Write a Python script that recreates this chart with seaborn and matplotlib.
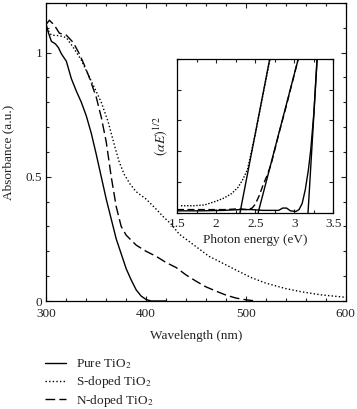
import matplotlib
matplotlib.use("Agg")
import matplotlib.pyplot as plt
import seaborn as sns
import numpy as np
import pandas as pd
from matplotlib.ticker import MultipleLocator

# ---------------- data (main panel) ----------------
pure_wl = [300, 302, 305, 309, 312, 315, 320, 325, 330, 335, 340, 345, 350, 355,
           360, 365, 370, 375, 380, 385, 390, 395, 400, 405, 420]
pure_abs = [1.11, 1.08, 1.045, 1.035, 1.02, 0.995, 0.965, 0.895, 0.845, 0.80, 0.745,
            0.675, 0.59, 0.50, 0.41, 0.33, 0.25, 0.19, 0.13, 0.085, 0.045, 0.02,
            0.006, 0.0, 0.0]

s_wl = [300, 305, 313, 320, 327, 335, 342, 348, 355, 362, 368, 373, 378, 384, 390,
        400, 410, 417, 425, 433, 443, 453, 463, 473, 490, 505, 520, 540, 556, 575, 600]
s_abs = [1.10, 1.07, 1.068, 1.06, 1.02, 0.97, 0.91, 0.86, 0.80, 0.72, 0.63, 0.56,
         0.51, 0.47, 0.44, 0.41, 0.37, 0.34, 0.31, 0.27, 0.24, 0.21, 0.18, 0.16,
         0.125, 0.095, 0.072, 0.05, 0.037, 0.025, 0.015]

n_wl = [300, 303, 308, 313, 320, 327, 333, 338, 343, 350, 355, 360, 365, 370, 375,
        380, 385, 390, 400, 410, 420, 430, 440, 450, 460, 470, 480, 490, 500, 510]
n_abs = [1.115, 1.13, 1.11, 1.078, 1.07, 1.04, 0.995, 0.95, 0.90, 0.82, 0.74, 0.64,
         0.50, 0.38, 0.30, 0.265, 0.245, 0.225, 0.20, 0.18, 0.155, 0.135, 0.105,
         0.08, 0.057, 0.04, 0.024, 0.012, 0.005, 0.0]

# ---------------- data (inset) ----------------
in_pure_e = [1.5, 1.8, 2.1, 2.3, 2.45, 2.6, 2.8, 2.85, 2.9, 2.95, 3.02, 3.06, 3.1,
             3.14, 3.18, 3.21, 3.25, 3.29]
in_pure_y = [0.012, 0.012, 0.015, 0.02, 0.02, 0.015, 0.015, 0.03, 0.03, 0.012, 0.008,
             0.02, 0.06, 0.15, 0.28, 0.41, 0.65, 1.0]

in_s_e = [1.55, 1.7, 1.85, 2.0, 2.1, 2.2, 2.28, 2.34, 2.4, 2.5, 2.6, 2.69]
in_s_y = [0.045, 0.045, 0.05, 0.075, 0.095, 0.125, 0.165, 0.215, 0.28, 0.51, 0.77, 1.0]

in_n_e = [1.5, 1.8, 2.1, 2.3, 2.4, 2.46, 2.5, 2.55, 2.6, 2.65, 2.7, 2.8, 2.9, 3.0, 3.05]
in_n_y = [0.02, 0.02, 0.02, 0.025, 0.02, 0.03, 0.055, 0.11, 0.18, 0.24, 0.31, 0.51,
          0.70, 0.90, 1.0]

fit_pure_e = [3.175, 3.292]
fit_s_e = [2.305, 2.685]
fit_n_e = [2.537, 3.05]
fit_y = [0.0, 1.0]

labels = ["Pure TiO$_2$", "S-doped TiO$_2$", "N-doped TiO$_2$"]

# ---------------- style ----------------
sns.set_theme(style="white")
plt.rcParams["font.family"] = ["Liberation Serif", "DejaVu Serif"]
plt.rcParams["mathtext.fontset"] = "stix"
plt.rcParams["axes.edgecolor"] = "black"
plt.rcParams["axes.linewidth"] = 0.9
plt.rcParams["text.color"] = "#222222"
plt.rcParams["axes.labelcolor"] = "#222222"
plt.rcParams["xtick.color"] = "#222222"
plt.rcParams["ytick.color"] = "#222222"

FS = 9.5
DOT = (0, (1, 1.6))
DASH = (0, (7, 3))
LW = 1.0

fig = plt.figure(figsize=(3.57, 4.09), dpi=100)
ax = fig.add_axes([0.130, 0.264, 0.838, 0.729])

sns.lineplot(x=pure_wl, y=pure_abs, ax=ax, color="black", lw=LW, linestyle="-",
             label=labels[0], sort=False)
sns.lineplot(x=s_wl, y=s_abs, ax=ax, color="black", lw=LW, linestyle=DOT,
             label=labels[1], sort=False)
sns.lineplot(x=n_wl, y=n_abs, ax=ax, color="black", lw=LW, linestyle=DASH,
             label=labels[2], sort=False)

ax.set_xlim(300, 600)
ax.set_ylim(0, 1.2)
ax.xaxis.set_major_locator(MultipleLocator(100))
ax.xaxis.set_minor_locator(MultipleLocator(20))
ax.yaxis.set_major_locator(MultipleLocator(0.5))
ax.yaxis.set_minor_locator(MultipleLocator(0.1))
ax.set_yticks([0, 0.5, 1])
ax.set_yticklabels(["0", "0.5", "1"])
ax.tick_params(which="both", direction="in", top=True, right=True,
               bottom=True, left=True, labelsize=FS, width=0.8)
ax.tick_params(axis="x", pad=5)
ax.tick_params(axis="y", pad=3)
ax.tick_params(which="major", length=3.5)
ax.tick_params(which="minor", length=2.5)
ax.set_xlabel("Wavelength (nm)", fontsize=FS, labelpad=7)
ax.set_ylabel("Absorbance (a.u.)", fontsize=FS, labelpad=8)
for sp in ax.spines.values():
    sp.set_visible(True)
    sp.set_color("black")

handles, labs = ax.get_legend_handles_labels()
ax.get_legend().remove()
fig.legend(handles, labs, loc="upper left", bbox_to_anchor=(0.125, 0.126),
           frameon=False, fontsize=FS, handlelength=1.65, handletextpad=0.75,
           labelspacing=0.22, borderpad=0, borderaxespad=0)

# ---------------- inset ----------------
ins = fig.add_axes([0.496, 0.480, 0.438, 0.376])
sns.lineplot(x=in_pure_e, y=in_pure_y, ax=ins, color="black", lw=LW, linestyle="-",
             sort=False)
sns.lineplot(x=in_s_e, y=in_s_y, ax=ins, color="black", lw=LW, linestyle=(0, (1, 1.2)),
             sort=False)
sns.lineplot(x=in_n_e, y=in_n_y, ax=ins, color="black", lw=LW, linestyle=(0, (5, 2.5)),
             sort=False)
for fe in (fit_pure_e, fit_s_e, fit_n_e):
    sns.lineplot(x=fe, y=fit_y, ax=ins, color="black", lw=LW, linestyle="-",
                 sort=False)

ins.set_xlim(1.5, 3.5)
ins.set_ylim(0, 1)
ins.xaxis.set_major_locator(MultipleLocator(0.5))
ins.xaxis.set_minor_locator(MultipleLocator(0.25))
ins.yaxis.set_major_locator(MultipleLocator(0.2))
ins.set_xticks([1.5, 2, 2.5, 3, 3.5])
ins.set_xticklabels(["1.5", "2", "2.5", "3", "3.5"])
ins.set_yticklabels([])
ins.tick_params(which="both", direction="in", top=True, right=True,
                bottom=True, left=True, labelsize=FS, width=0.8, pad=4)
ins.tick_params(which="major", length=3)
ins.tick_params(which="minor", length=2.5)
ins.set_xlabel("Photon energy (eV)", fontsize=FS, labelpad=3)
ins.set_ylabel(r"$(\alpha E)^{1/2}$", fontsize=10, labelpad=1)
for sp in ins.spines.values():
    sp.set_visible(True)
    sp.set_color("black")
ins.set_facecolor("white")

fig.savefig("out.png", dpi=100)
